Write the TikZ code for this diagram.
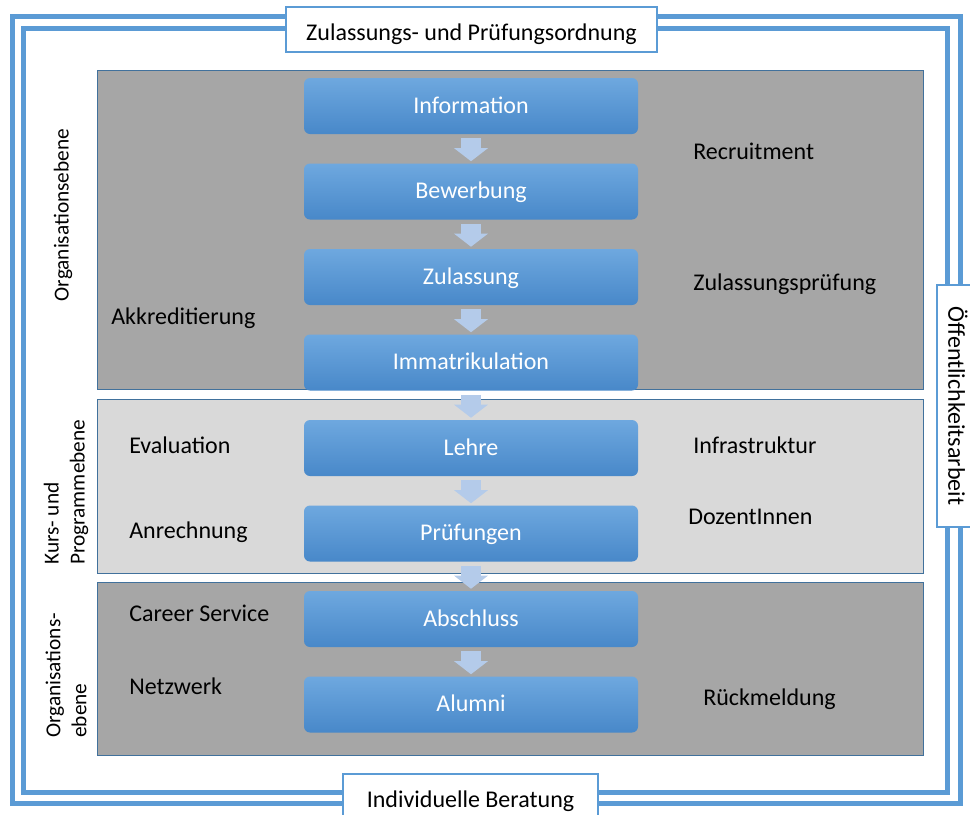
\documentclass[tikz,border=0pt]{standalone}
\usepackage{fontspec}
\setmainfont{Carlito}
\usetikzlibrary{arrows.meta}
\definecolor{rahmenblau}{HTML}{5B9BD5}
\definecolor{randblau}{HTML}{41719C}
\definecolor{boxoben}{HTML}{6EA8DF}
\definecolor{boxunten}{HTML}{4888C9}
\definecolor{pfeilblau}{HTML}{B4CBEA}
\definecolor{dunkelgrau}{HTML}{A6A6A6}
\definecolor{hellgrau}{HTML}{D9D9D9}

\begin{document}
\begin{tikzpicture}[
    x=0.75pt,
    y=-0.75pt,
    schritt/.style={
        rounded corners=4.5pt,
        top color=boxoben,
        bottom color=boxunten,
        minimum width=250.5pt,
        minimum height=42pt,
        text height=14pt,
        text depth=3pt,
        text=white,
        font=\fontsize{18}{22}\selectfont
    },
    pfeil/.style={
        draw=pfeilblau,
        line width=15pt,
        -{Triangle[width=24.75pt,length=9.75pt]},
        shorten <=3pt,
        shorten >=1.5pt
    },
    ebene/.style={
        draw=randblau,
        line width=0.75pt
    },
    rahmen/.style={
        draw=rahmenblau,
        line width=3.75pt
    },
    rahmentext/.style={
        draw=rahmenblau,
        line width=1.5pt,
        fill=white,
        inner sep=0pt,
        font=\fontsize{18}{22}\selectfont
    },
    stichwort/.style={
        anchor=mid west,
        inner sep=0pt,
        font=\fontsize{18}{22}\selectfont
    },
    ebenentext/.style={
        rotate=90,
        inner sep=0pt,
        align=left,
        font=\fontsize{16}{19.5}\selectfont
    }
]

    \useasboundingbox (0,0) rectangle (970,814);

    % Doppelrahmen
    \draw[rahmen] (12.5,16) rectangle (960,803);
    \draw[rahmen] (23.5,28) rectangle (947.5,792);

    % Ebenen
    \draw[ebene, fill=dunkelgrau] (97,70) rectangle (923,389);
    \draw[ebene, fill=hellgrau] (97,399) rectangle (923,573);
    \draw[ebene, fill=dunkelgrau] (97,582) rectangle (923,755);

    % Ebenenbeschriftung
    \node[ebenentext] (orga1) at (63,215) {Organisationsebene};
    \node[ebenentext, anchor=west] (kurs) at (66,565) {Kurs- und\\Programmebene};
    \node[ebenentext, anchor=west] (orga2) at (66,738) {Organisations-\\ebene};

    % Ablauf
    \node[schritt] (info) at (471,106) {Information};
    \node[schritt] (bewerb) at (471,191.5) {Bewerbung};
    \node[schritt] (zulass) at (471,277) {Zulassung};
    \node[schritt] (immatr) at (471,362.5) {Immatrikulation};
    \node[schritt] (lehre) at (471,448) {Lehre};
    \node[schritt] (pruef) at (471,533.5) {Prüfungen};
    \node[schritt] (abschl) at (471,619) {Abschluss};
    \node[schritt] (alumni) at (471,704.5) {Alumni};

    % Pfeile
    \draw[pfeil] (info) -- (bewerb);
    \draw[pfeil] (bewerb) -- (zulass);
    \draw[pfeil] (zulass) -- (immatr);
    \draw[pfeil] (immatr) -- (lehre);
    \draw[pfeil] (lehre) -- (pruef);
    \draw[pfeil] (pruef) -- (abschl);
    \draw[pfeil] (abschl) -- (alumni);

    % Stichworte links
    \node[stichwort] (akkred) at (111,321) {Akkreditierung};
    \node[stichwort] (eval) at (129,450) {Evaluation};
    \node[stichwort] (anrech) at (129,535) {Anrechnung};
    \node[stichwort] (career) at (129,618) {Career Service};
    \node[stichwort] (netz) at (129,691) {Netzwerk};

    % Stichworte rechts
    \node[stichwort] (recruit) at (693,156) {Recruitment};
    \node[stichwort] (zulpruef) at (693,287) {Zulassungsprüfung};
    \node[stichwort] (infra) at (693,450) {Infrastruktur};
    \node[stichwort] (dozent) at (688,521) {DozentInnen};
    \node[stichwort] (rueck) at (703,702) {Rückmeldung};

    % Rahmenbeschriftung
    \node[
        rahmentext,
        minimum width=278.25pt,
        minimum height=33.75pt,
        text height=17pt,
        text depth=1pt
    ] (ordnung) at (471.5,29.5) {Zulassungs- und Prüfungsordnung};

    \node[
        rahmentext,
        minimum width=191.25pt,
        minimum height=34.5pt,
        text height=17pt,
        text depth=1pt
    ] (beratung) at (470.5,797) {Individuelle Beratung};

    \node[
        rahmentext,
        rotate=-90,
        minimum width=181.5pt,
        minimum height=31.5pt
    ] (oeffentl) at (958,406) {Öffentlichkeitsarbeit};

\end{tikzpicture}
\end{document}
